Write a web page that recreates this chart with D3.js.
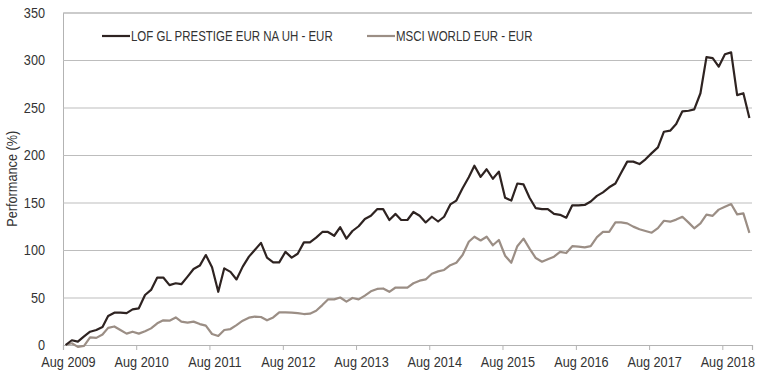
<!DOCTYPE html>
<html>
<head>
<meta charset="utf-8">
<script src="https://cdnjs.cloudflare.com/ajax/libs/d3/7.8.5/d3.min.js"></script>
<style>
	body { margin: 0; background: #fff; }
	svg text { font-family: "Liberation Sans", Arial, sans-serif; fill: #333; }
</style>
</head>
<body>
<div id="chart"></div>
<script>
// séries mensuelles, depuis août 2009
var startMonth = new Date(2009, 7, 14);

var seriesNames = ["LOF GL PRESTIGE EUR NA UH - EUR", "MSCI WORLD EUR - EUR"];
var seriesColors = ["#2e2321", "#9b8e85"];

var fundValues = [
	0, 5, 3.5, 9, 14, 15.8, 19, 30.5, 34, 34,
	33.5, 37.5, 38.6, 52.6, 58, 71, 71, 63, 65, 64,
	72, 80, 83.6, 94.7, 81.8, 56, 80.7, 77, 69, 82.5,
	93, 100, 107.5, 92, 87, 87, 98, 92, 96, 108,
	108, 113, 119, 119, 115, 124, 112, 120, 125, 132.6,
	136, 143, 143, 131.6, 138, 131.6, 131.6, 140, 136, 129,
	135, 130, 135, 148, 152, 165, 176.5, 188.7, 177, 185,
	175, 182.5, 155, 152, 170, 169, 155, 144, 143, 143,
	138, 137, 134, 147, 147, 147.4, 151, 157, 160.7, 166,
	170, 181, 193, 193, 190.5, 195.5, 202, 208, 224.5, 225.6,
	232.6, 246, 246.6, 248, 265, 303, 302, 293, 306, 308,
	263, 265, 239
];

var indexValues = [
	0, 1.8, -2, -1, 8, 7.5, 11, 18, 19.5, 15.8,
	12, 14, 12, 14.5, 17.5, 22.8, 26, 25.6, 29, 24.6,
	23.5, 24.6, 22, 20.4, 11.6, 9.5, 15.8, 16.8, 21, 25.6,
	28.8, 29.8, 29.5, 26, 29, 34.4, 34.4, 34, 33.5, 32.6,
	33, 36, 42, 48, 48, 50, 45.6, 49.5, 48, 52,
	56.5, 59, 59.5, 56, 60.5, 60.5, 60.5, 65, 67.7, 69,
	75, 77.5, 79, 84, 86.6, 94.7, 108.7, 114, 110, 114,
	105, 110.5, 94, 86.6, 104, 112, 101.5, 91.5, 87.7, 90.3,
	93, 98, 96.8, 104, 103.5, 102.8, 104, 113.5, 119, 119,
	129, 129, 128, 124.6, 121.8, 120, 118.2, 123, 130.8, 129.8,
	132, 135, 128.8, 122.8, 128, 137.3, 136, 142.5, 145.6, 148.4,
	137.5, 138.6, 118
];

var yTicks = [0, 50, 100, 150, 200, 250, 300, 350];
var xTickYears = [2009, 2010, 2011, 2012, 2013, 2014, 2015, 2016, 2017, 2018];

// dimensions
var width = 765,
	height = 382;
var plotLeft = 63,
	plotRight = 752,
	plotTop = 12.5,
	plotBottom = 345;
// police étroite simulée
var narrow = 0.82;

var svg = d3.select("#chart").append("svg")
	.attr("width", width)
	.attr("height", height);

var x = d3.scaleTime()
	.domain([new Date(2009, 7, 1), new Date(2018, 11, 27)])
	.range([plotLeft, plotRight]);

var y = d3.scaleLinear()
	.domain([0, 350])
	.range([plotBottom, plotTop]);

// grille horizontale
var yAxis = d3.axisLeft(y)
	.tickValues(yTicks)
	.tickSize(-(plotRight - plotLeft))
	.tickPadding(18)
	.tickFormat(d3.format("d"));

var gy = svg.append("g")
	.attr("transform", "translate(" + plotLeft + ",0)")
	.call(yAxis);
gy.select(".domain").attr("stroke", "#b3b3b3").attr("stroke-width", 1);
gy.selectAll(".tick line").attr("stroke", "#bdbdbd").attr("stroke-width", 1.2);
gy.selectAll(".tick text")
	.style("font-size", "15.5px")
	.attr("x", -18 / narrow)
	.attr("transform", "scale(" + narrow + ",1)")
	.attr("fill", "#333");

// axe des x
var xAxis = d3.axisBottom(x)
	.tickValues(xTickYears.map(function (yr) {
		return new Date(yr, 7, 1);
	}))
	.tickSize(5)
	.tickPadding(6)
	.tickFormat(d3.timeFormat("%b %Y"));

var gx = svg.append("g")
	.attr("transform", "translate(0," + plotBottom + ")")
	.call(xAxis);
gx.select(".domain").attr("stroke", "#b3b3b3").attr("stroke-width", 1.2);
gx.selectAll(".tick line").attr("stroke", "#b3b3b3");
gx.selectAll(".tick text")
	.style("font-size", "15.5px")
	.attr("x", 5 / narrow)
	.attr("transform", "scale(" + narrow + ",1)")
	.attr("fill", "#333");

// titre axe y
svg.append("text")
	.attr("transform", "translate(17," + ((plotTop + plotBottom) / 2) + ") rotate(-90) scale(" + narrow + ",1)")
	.attr("text-anchor", "middle")
	.style("font-size", "15.5px")
	.text("Performance (%)");

// lignes
var line = d3.line()
	.x(function (d, i) {
		return x(d3.timeMonth.offset(startMonth, i));
	})
	.y(function (d) {
		return y(d);
	});

var allSeries = [fundValues, indexValues];

svg.selectAll(".serie")
	.data([1, 0])
	.enter().append("path")
	.attr("class", "serie")
	.attr("fill", "none")
	.attr("stroke", function (k) {
		return seriesColors[k];
	})
	.attr("stroke-width", 2.2)
	.attr("stroke-linejoin", "round")
	.attr("d", function (k) {
		return line(allSeries[k]);
	});

// légende
var legendX = [102, 367];
var legend = svg.selectAll(".legende")
	.data(seriesNames)
	.enter().append("g")
	.attr("class", "legende")
	.attr("transform", function (d, i) {
		return "translate(" + legendX[i] + ",36)";
	});

legend.append("line")
	.attr("x1", 0).attr("x2", 28)
	.attr("stroke", function (d, i) {
		return seriesColors[i];
	})
	.attr("stroke-width", 2.2);

legend.append("text")
	.attr("x", 29 / narrow)
	.attr("dy", "0.35em")
	.attr("transform", "scale(" + narrow + ",1)")
	.style("font-size", "14px")
	.text(function (d) {
		return d;
	});
</script>
</body>
</html>
